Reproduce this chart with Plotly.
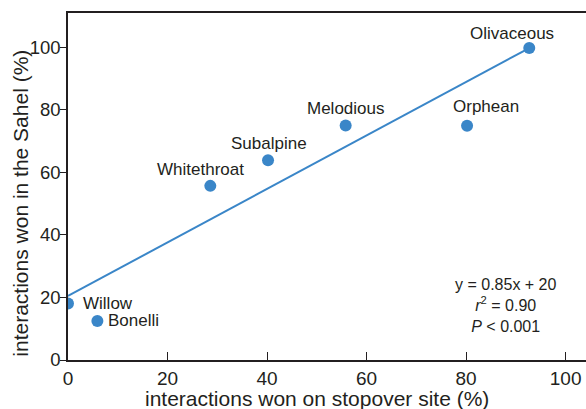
import plotly.graph_objects as go

species = ["Willow", "Bonelli", "Whitethroat", "Subalpine", "Melodious", "Orphean", "Olivaceous"]
stopover = [0, 5.9, 28.6, 40.2, 55.8, 80.2, 92.7]
sahel = [18.1, 12.5, 55.7, 63.9, 75.0, 74.9, 99.8]

fit_x = [0, 92.7]
fit_y = [20.5, 99.8]

x_ticks = [0, 20, 40, 60, 80, 100]
y_ticks = [0, 20, 40, 60, 80, 100]

stats_text = "y = 0.85x + 20<br><i>r</i><sup>2</sup> = 0.90<br><i>P</i> &lt; 0.001"

blue = "#3a86c8"
ink = "#231f20"
font_family = "Liberation Sans, Arial, sans-serif"

fig = go.Figure()
fig.add_trace(go.Scatter(x=fit_x, y=fit_y, mode="lines",
                         line=dict(color=blue, width=2), hoverinfo="skip"))
fig.add_trace(go.Scatter(x=stopover, y=sahel, mode="markers",
                         marker=dict(color=blue, size=12, line=dict(width=0))))

# label offsets (pixels) relative to each point
offsets = {
    "Willow": (13, 0, "left"),
    "Bonelli": (9, 0, "left"),
    "Whitethroat": (-10, 16, "center"),
    "Subalpine": (1, 17, "center"),
    "Melodious": (0, 17, "center"),
    "Orphean": (19, 19, "center"),
    "Olivaceous": (-17, 15, "center"),
}
for name, xv, yv in zip(species, stopover, sahel):
    dx, dy, anchor = offsets[name]
    fig.add_annotation(x=xv, y=yv, text=name, showarrow=False,
                       xanchor=anchor, yanchor="middle", xshift=dx, yshift=dy,
                       font=dict(size=17, color=ink, family=font_family))

fig.add_annotation(x=88, y=17.3, text=stats_text, showarrow=False,
                   xanchor="center", yanchor="middle", align="center",
                   font=dict(size=16, color=ink, family=font_family))

# axis titles
fig.add_annotation(x=50, y=0, text="interactions won on stopover site (%)",
                   showarrow=False, xanchor="center", yanchor="middle", yshift=-38,
                   font=dict(size=21, color=ink, family=font_family))
fig.add_annotation(x=0, y=50, text="interactions won in the Sahel (%)",
                   showarrow=False, textangle=-90, xanchor="center", yanchor="middle",
                   xshift=-47,
                   font=dict(size=21, color=ink, family=font_family))

fig.update_layout(
    width=586, height=409,
    margin=dict(l=68, r=0, t=13, b=49),
    paper_bgcolor="white", plot_bgcolor="white",
    showlegend=False,
    font=dict(family=font_family, color=ink),
    xaxis=dict(range=[0, 104.1], tickvals=x_ticks, ticks="inside", ticklen=8,
               tickwidth=1.3, tickcolor=ink, showline=True, linecolor=ink, linewidth=1.5,
               mirror=True, showgrid=False, zeroline=False, ticklabeloverflow="allow",
               tickfont=dict(size=19, color=ink, family=font_family)),
    yaxis=dict(range=[0, 111], tickvals=y_ticks, ticks="outside", ticklen=6,
               tickwidth=1.3, tickcolor=ink, showline=True, linecolor=ink, linewidth=1.5,
               showgrid=False, zeroline=False, ticklabelstandoff=-4,
               tickfont=dict(size=18.5, color=ink, family=font_family)),
)

fig.write_html(
    "out.html",
    config={"displayModeBar": False},
    post_script="document.documentElement.style.overflow='hidden';"
                "document.body.style.margin='0';document.body.style.overflow='hidden';",
)
